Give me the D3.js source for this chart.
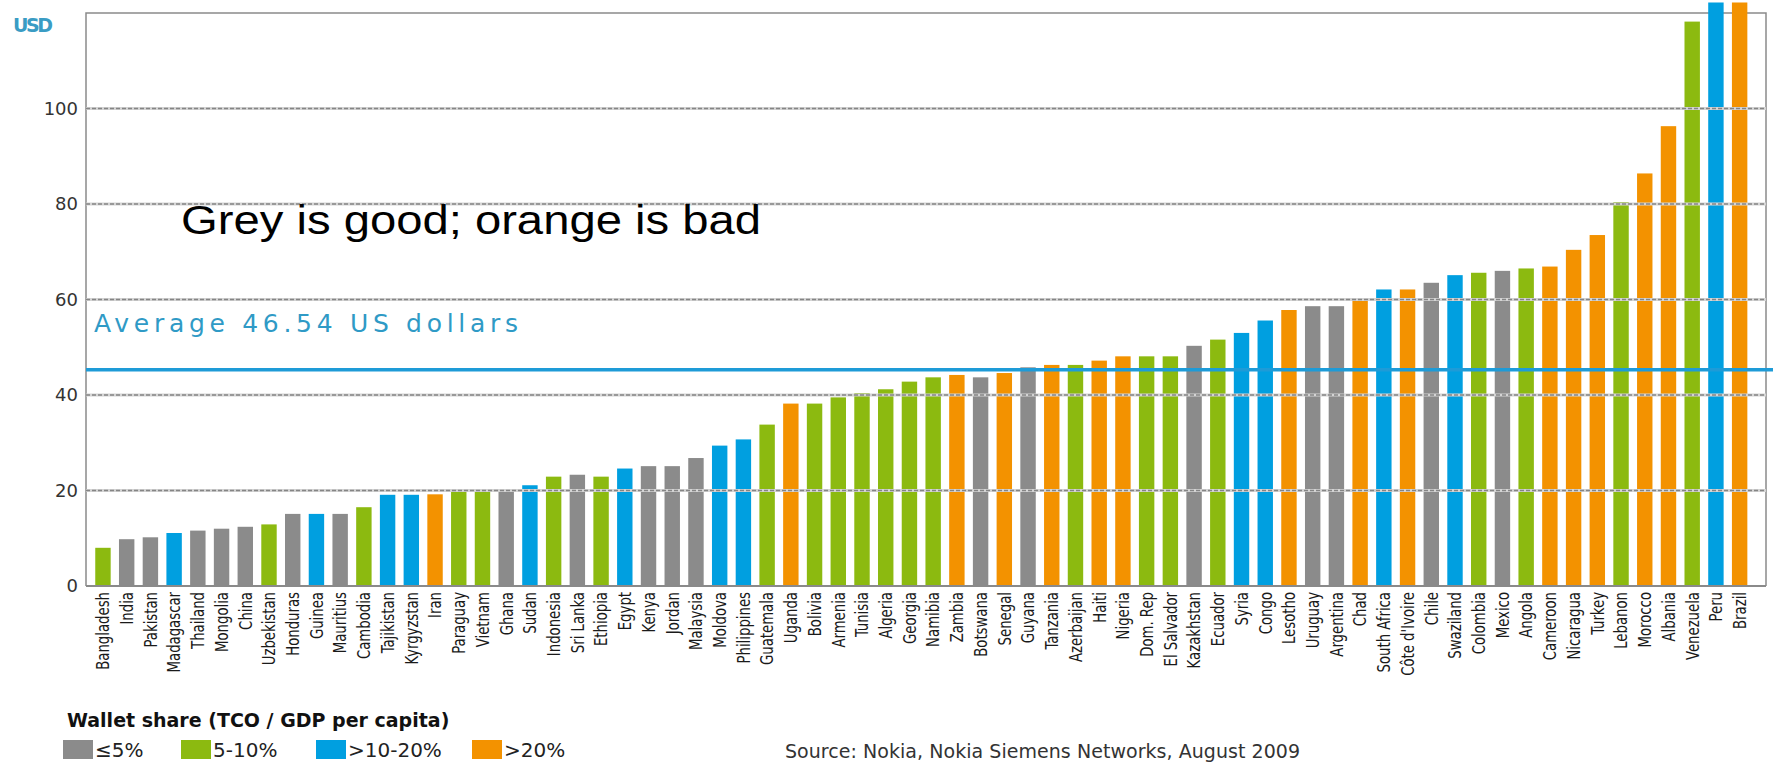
<!DOCTYPE html>
<html>
<head>
<meta charset="utf-8">
<script src="https://cdn.jsdelivr.net/npm/d3@7"></script>
<style>
  body { margin: 0; background: #fff; }
  svg { display: block; }
</style>
</head>
<body>
<svg id="chart"></svg>
<script>
// mobile cost per country, USD, sorted low to high
var countries = ["Bangladesh", "India", "Pakistan", "Madagascar", "Thailand", "Mongolia", "China", "Uzbekistan",
    "Honduras", "Guinea", "Mauritius", "Cambodia", "Tajikistan", "Kyrgyzstan", "Iran", "Paraguay", "Vietnam",
    "Ghana", "Sudan", "Indonesia", "Sri Lanka", "Ethiopia", "Egypt", "Kenya", "Jordan", "Malaysia", "Moldova",
    "Philippines", "Guatemala", "Uganda", "Bolivia", "Armenia", "Tunisia", "Algeria", "Georgia", "Namibia",
    "Zambia", "Botswana", "Senegal", "Guyana", "Tanzania", "Azerbaijan", "Haiti", "Nigeria", "Dom. Rep",
    "El Salvador", "Kazakhstan", "Ecuador", "Syria", "Congo", "Lesotho", "Uruguay", "Argentina", "Chad",
    "South Africa", "Côte d'Ivoire", "Chile", "Swaziland", "Colombia", "Mexico", "Angola", "Cameroon",
    "Nicaragua", "Turkey", "Lebanon", "Morocco", "Albania", "Venezuela", "Peru", "Brazil"];

var usdValues = [8.0, 9.8, 10.2, 11.1, 11.6, 12.0, 12.4, 12.9,
    15.1, 15.1, 15.1, 16.5, 19.1, 19.1, 19.2, 19.7, 20.0,
    20.1, 21.1, 22.9, 23.3, 22.9, 24.6, 25.1, 25.1, 26.8, 29.4,
    30.7, 33.8, 38.2, 38.2, 39.5, 40.4, 41.2, 42.8, 43.7,
    44.2, 43.7, 44.6, 45.8, 46.3, 46.3, 47.2, 48.1, 48.1,
    48.1, 50.3, 51.6, 53.0, 55.6, 57.8, 58.6, 58.6, 60.0,
    62.1, 62.1, 63.5, 65.1, 65.6, 66.0, 66.5, 66.9,
    70.4, 73.5, 80.4, 86.4, 96.3, 118.2, 122.2, 122.2];

// wallet share class: 0 = <=5%, 1 = 5-10%, 2 = >10-20%, 3 = >20%
var shareClass = [1, 0, 0, 2, 0, 0, 0, 1,
    0, 2, 0, 1, 2, 2, 3, 1, 1,
    0, 2, 1, 0, 1, 2, 0, 0, 0, 2,
    2, 1, 3, 1, 1, 1, 1, 1, 1,
    3, 0, 3, 0, 3, 1, 3, 3, 1,
    1, 0, 1, 2, 2, 3, 0, 0, 3,
    2, 3, 0, 2, 1, 0, 1, 3,
    3, 3, 1, 3, 3, 1, 2, 3];

var shareLabels = ["≤5%", "5-10%", ">10-20%", ">20%"];
var shareColors = ["#8b8b8b", "#8cba10", "#009fe0", "#f39200"];
var yTicks = [0, 20, 40, 60, 80, 100];
var averageLine = 45.3;
var averageText = "Average  46.54 US dollars";

var width = 1773;
var height = 768;
var frame = {left: 86, right: 1766, top: 13, bottom: 586};

var svg = d3.select('#chart')
    .attr('width', width)
    .attr('height', height)
    .style('font-family', '"DejaVu Sans", Verdana, sans-serif');

svg.append('rect').attr('width', width).attr('height', height).attr('fill', '#fff');

var data = countries.map(function (c, i) {
    return {country: c, value: usdValues[i], cls: shareClass[i]};
});

var xScale = d3.scaleBand()
    .domain(countries)
    .range([frame.left, 1756.6])
    .paddingInner(0.35)
    .paddingOuter(0.39);

var yScale = d3.scaleLinear()
    .domain([0, 120])
    .range([frame.bottom, frame.top]);

// frame (left, top, right)
svg.append('path')
    .attr('d', 'M' + frame.left + ',' + frame.bottom + 'V' + frame.top + 'H' + frame.right + 'V' + frame.bottom)
    .attr('fill', 'none')
    .attr('stroke', '#8a8a8a')
    .attr('stroke-width', 1.5);

// bars
svg.selectAll('.bar')
    .data(data)
    .enter().append('rect')
    .attr('class', 'bar')
    .attr('x', function (d) { return xScale(d.country); })
    .attr('y', function (d) { return yScale(d.value); })
    .attr('width', xScale.bandwidth())
    .attr('height', function (d) { return yScale(0) - yScale(d.value); })
    .attr('fill', function (d) { return shareColors[d.cls]; });

// dotted gridlines sit over the bars
var grid = svg.append('g');
yTicks.slice(1).forEach(function (t) {
    grid.append('line')
        .attr('x1', frame.left).attr('x2', frame.right)
        .attr('y1', yScale(t)).attr('y2', yScale(t))
        .attr('stroke', '#d4d4d4').attr('stroke-width', 3);
    grid.append('line')
        .attr('x1', frame.left).attr('x2', frame.right)
        .attr('y1', yScale(t)).attr('y2', yScale(t))
        .attr('stroke', '#858585').attr('stroke-width', 1.5)
        .attr('stroke-dasharray', '4,2');
});

// zero line
svg.append('line')
    .attr('x1', frame.left).attr('x2', frame.right)
    .attr('y1', yScale(0)).attr('y2', yScale(0))
    .attr('stroke', '#8a8a8a').attr('stroke-width', 2);

// average line
svg.append('line')
    .attr('x1', frame.left).attr('x2', width)
    .attr('y1', yScale(averageLine)).attr('y2', yScale(averageLine))
    .attr('stroke', '#1e9bd7').attr('stroke-width', 3.5);

svg.append('text')
    .attr('x', 94)
    .attr('y', 332)
    .attr('textLength', 424)
    .style('font-size', '25px')
    .style('fill', '#2f9ac6')
    .text(averageText);

// y axis labels
var yAxis = d3.axisLeft(yScale).tickValues(yTicks).tickSize(0).tickPadding(8);
var yg = svg.append('g')
    .attr('transform', 'translate(' + frame.left + ',0)')
    .call(yAxis);
yg.select('.domain').remove();
yg.selectAll('text')
    .style('font-family', '"DejaVu Sans", Verdana, sans-serif')
    .style('font-size', '18px')
    .style('fill', '#333');

svg.append('text')
    .attr('x', 13)
    .attr('y', 32)
    .attr('textLength', 40)
    .style('font-size', '19px')
    .style('font-weight', 'bold')
    .style('fill', '#3a9cc4')
    .text('USD');

// x axis labels, rotated and squeezed along the text
var xAxis = d3.axisBottom(xScale).tickSize(0).tickPadding(0);
var xg = svg.append('g')
    .attr('transform', 'translate(0,' + frame.bottom + ')')
    .call(xAxis);
xg.select('.domain').remove();
xg.selectAll('text')
    .attr('transform', 'translate(0,6)rotate(-90)scale(0.82,1)')
    .attr('x', 0)
    .attr('y', 0)
    .attr('dy', '0.35em')
    .style('text-anchor', 'end')
    .style('font-family', '"DejaVu Sans Condensed", "DejaVu Sans", sans-serif')
    .style('font-size', '18px')
    .style('fill', '#1a1a1a');

// annotation
svg.append('text')
    .attr('x', 181)
    .attr('y', 234)
    .attr('textLength', 580)
    .attr('lengthAdjust', 'spacingAndGlyphs')
    .style('font-family', '"Liberation Sans", Arial, sans-serif')
    .style('font-size', '40px')
    .style('fill', '#000')
    .text('Grey is good; orange is bad');

// legend
svg.append('text')
    .attr('x', 67)
    .attr('y', 727)
    .style('font-size', '19px')
    .style('font-weight', 'bold')
    .style('fill', '#111')
    .text('Wallet share (TCO / GDP per capita)');

var legendX = [63, 181, 316, 472];
var legend = svg.selectAll('.legend')
    .data(shareLabels)
    .enter().append('g')
    .attr('class', 'legend')
    .attr('transform', function (d, i) { return 'translate(' + legendX[i] + ',740)'; });
legend.append('rect')
    .attr('width', 30).attr('height', 19)
    .attr('fill', function (d, i) { return shareColors[i]; });
legend.append('text')
    .attr('x', 32).attr('y', 17)
    .style('font-size', '20px')
    .style('fill', '#222')
    .text(function (d) { return d; });

svg.append('text')
    .attr('x', 785)
    .attr('y', 758)
    .attr('textLength', 515)
    .style('font-size', '19px')
    .style('fill', '#333')
    .text('Source: Nokia, Nokia Siemens Networks, August 2009');
</script>
</body>
</html>
